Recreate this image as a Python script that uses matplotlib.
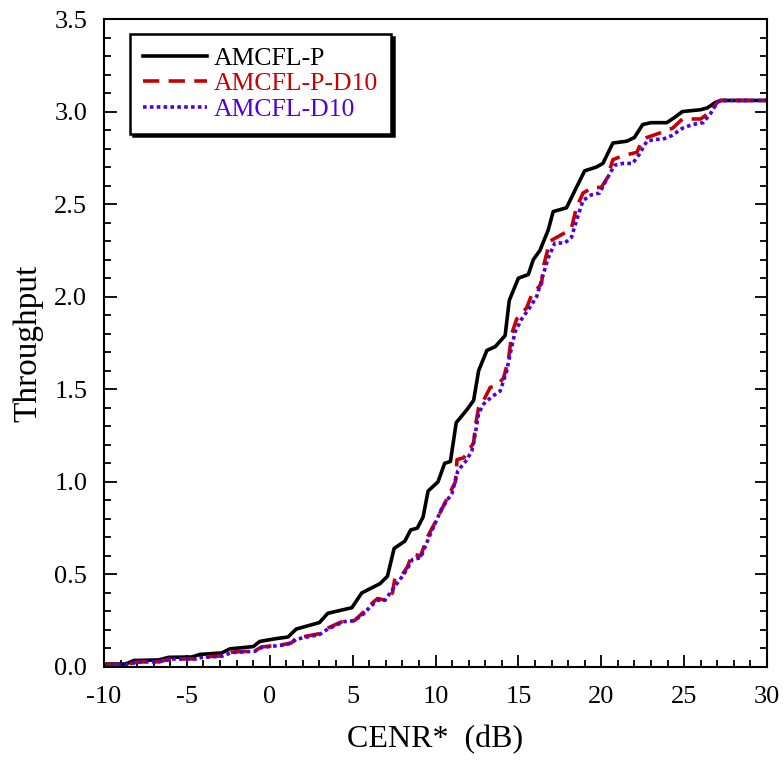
import numpy as np
import matplotlib
matplotlib.use("Agg")
import matplotlib.pyplot as plt
from matplotlib.ticker import MultipleLocator

plt.rcParams['font.family'] = ['Liberation Serif', 'DejaVu Serif']
plt.rcParams['axes.unicode_minus'] = False

# AMCFL-P
x_p = [-10, -8.7, -8.2, -6.7, -6.1, -4.7, -4.2, -2.9, -2.4, -1.0, -0.6, 0.3, 1.1, 1.6,
       3.0, 3.5, 4.95, 5.55, 6.65, 7.1, 7.5, 8.15, 8.5, 8.9, 9.25, 9.55, 10.15, 10.55,
       10.9, 11.25, 11.9, 12.3, 12.6, 13.1, 13.6, 14.2, 14.45, 15.0, 15.6, 15.9, 16.3,
       16.8, 17.1, 17.9, 18.5, 19.0, 19.7, 20.1, 20.7, 21.55, 22.0, 22.5, 23.0, 23.95,
       24.45, 24.9, 26.0, 26.4, 26.9, 27.2, 30]
y_p = [0.016, 0.016, 0.035, 0.038, 0.052, 0.054, 0.068, 0.076, 0.098, 0.11, 0.138, 0.152,
       0.162, 0.205, 0.24, 0.29, 0.32, 0.40, 0.45, 0.49, 0.64, 0.68, 0.74, 0.75, 0.81,
       0.95, 1.0, 1.10, 1.11, 1.32, 1.39, 1.44, 1.60, 1.71, 1.73, 1.79, 1.98, 2.10, 2.12,
       2.20, 2.25, 2.36, 2.46, 2.48, 2.59, 2.68, 2.70, 2.72, 2.83, 2.84, 2.86, 2.93, 2.94,
       2.94, 2.97, 3.0, 3.01, 3.02, 3.05, 3.06, 3.06]

# AMCFL-P-D10
x_pd = [-10, -8.7, -8.0, -6.7, -6.0, -4.5, -4.1, -2.9, -2.3, -0.9, -0.5, 0.75, 1.3, 1.6,
        3.0, 3.5, 4.1, 4.5, 5.1, 5.7, 6.0, 6.5, 7.0, 7.4, 7.55, 8.0, 8.3, 8.6, 9.1, 9.5,
        10.15, 10.75, 11.2, 11.3, 11.7, 12.3, 12.4, 12.6, 12.9, 13.3, 13.7, 14.1, 14.4,
        14.6, 14.9, 15.5, 15.8, 16.4, 16.5, 16.9, 17.7, 18.2, 18.5, 18.9, 19.5, 20.0,
        20.35, 20.7, 21.25, 22.15, 22.45, 22.75, 23.4, 24.3, 24.9, 26.0, 26.6, 27.0,
        27.2, 30]
y_pd = [0.012, 0.013, 0.027, 0.028, 0.043, 0.044, 0.054, 0.06, 0.08, 0.087, 0.108, 0.12,
        0.13, 0.156, 0.18, 0.21, 0.235, 0.25, 0.25, 0.30, 0.33, 0.37, 0.36, 0.40, 0.48,
        0.50, 0.54, 0.61, 0.60, 0.70, 0.81, 0.92, 1.0, 1.12, 1.13, 1.21, 1.30, 1.40, 1.44,
        1.51, 1.52, 1.56, 1.66, 1.80, 1.88, 1.94, 2.01, 2.07, 2.16, 2.30, 2.34, 2.37, 2.48,
        2.56, 2.59, 2.59, 2.64, 2.74, 2.76, 2.78, 2.84, 2.86, 2.88, 2.91, 2.96, 2.96, 3.0,
        3.05, 3.06, 3.06]

# AMCFL-D10
x_d = [-10, -8.7, -7.9, -6.7, -5.9, -4.5, -4.1, -2.9, -2.3, -0.9, -0.5, 0.75, 1.3, 1.6,
       3.0, 3.5, 4.1, 4.5, 5.1, 5.7, 6.0, 6.5, 6.95, 7.5, 8.0, 8.3, 8.6, 9.1, 9.7, 10.4,
       11.0, 11.35, 11.9, 12.2, 12.4, 12.6, 12.9, 13.4, 13.9, 14.3, 14.5, 14.8, 15.2,
       15.6, 16.1, 16.4, 16.8, 17.2, 17.8, 18.2, 18.5, 18.9, 19.4, 19.9, 20.3, 20.8,
       21.3, 21.9, 22.3, 22.75, 23.25, 23.7, 24.25, 24.9, 25.5, 26.15, 26.6, 27.0, 27.2, 30]
y_d = [0.012, 0.013, 0.027, 0.028, 0.043, 0.044, 0.052, 0.058, 0.078, 0.085, 0.105, 0.118,
       0.128, 0.15, 0.175, 0.205, 0.23, 0.245, 0.25, 0.29, 0.32, 0.36, 0.36, 0.43, 0.49,
       0.53, 0.58, 0.59, 0.72, 0.86, 0.94, 1.06, 1.12, 1.17, 1.26, 1.37, 1.42, 1.46, 1.49,
       1.60, 1.69, 1.81, 1.88, 1.93, 2.00, 2.09, 2.21, 2.29, 2.29, 2.32, 2.41, 2.52, 2.55,
       2.56, 2.63, 2.71, 2.72, 2.72, 2.77, 2.84, 2.85, 2.85, 2.87, 2.91, 2.93, 2.94, 2.99,
       3.05, 3.06, 3.06]

red = '#C80000'
blue = '#5000DC'

fig = plt.figure(figsize=(7.84, 7.6), dpi=100)
ax = fig.add_axes([0.1327, 0.1224, 0.8456, 0.8526])

ax.plot(x_p, y_p, color='black', lw=2.6, label='AMCFL-P')
ax.plot(x_pd, y_pd, color=red, lw=2.6, dashes=(4.5, 2.6), label='AMCFL-P-D10')
ax.plot(x_d, y_d, color=blue, lw=2.6, dashes=(1.0, 0.9), label='AMCFL-D10')

ax.set_xlim(-10, 30)
ax.set_ylim(0, 3.5)
ax.xaxis.set_major_locator(MultipleLocator(5))
ax.xaxis.set_minor_locator(MultipleLocator(1))
ax.yaxis.set_major_locator(MultipleLocator(0.5))
ax.yaxis.set_minor_locator(MultipleLocator(0.1))
ax.yaxis.set_major_formatter(plt.FormatStrFormatter('%.1f'))

ax.tick_params(which='both', direction='in', top=False, right=True, width=1.3,
               labelsize=19)
ax.tick_params(axis='x', pad=14)
ax.tick_params(axis='y', pad=12)
ax.tick_params(which='major', length=9)
ax.tick_params(which='minor', length=5)
for s in ax.spines.values():
    s.set_linewidth(1.5)

ax.set_xlabel('CENR*  (dB)', fontsize=23, labelpad=12)
ax.set_ylabel('Throughput', fontsize=24, labelpad=8)

leg = ax.legend(loc='upper left', bbox_to_anchor=(0.039, 0.977), borderaxespad=0,
                fontsize=18.5, frameon=True, fancybox=False, handlelength=2.5,
                handletextpad=0.27, labelspacing=0.1, borderpad=0.5,
                shadow={'facecolor': 'black', 'edgecolor': 'black', 'alpha': 1})
leg.get_frame().set_edgecolor('black')
leg.get_frame().set_linewidth(1.8)
for t, c in zip(leg.get_texts(), ['black', red, blue]):
    t.set_color(c)

fig.savefig('out.png', dpi=100)
